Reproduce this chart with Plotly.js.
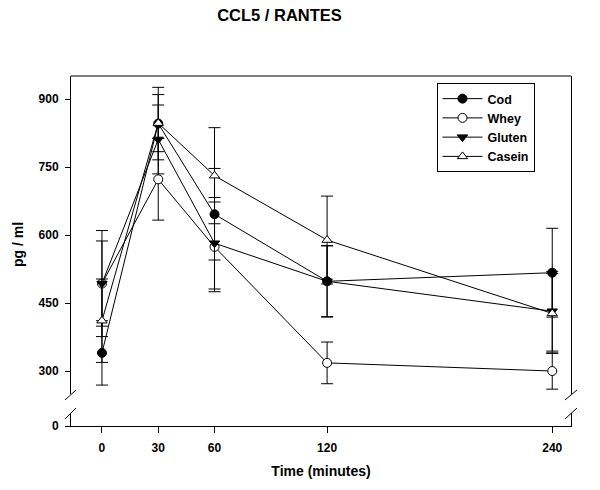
<!DOCTYPE html>
<html>
<head>
<meta charset="utf-8">
<script src="https://cdn.plot.ly/plotly-3.0.1.min.js"></script>
<style>html,body{margin:0;padding:0;background:#fff;}#chart{width:600px;height:490px;}</style>
</head>
<body>
<div id="chart"></div>
<script>
// Data
const times = [0, 30, 60, 120, 240];
const xTickLabels = ['0', '30', '60', '120', '240'];
const yTickVals = [300, 450, 600, 750, 900];

const seriesNames = ['Cod', 'Whey', 'Gluten', 'Casein'];
const codMean    = [340, 846, 646, 498, 517];
const codErr     = [71, 80, 101, 78, 98];
const wheyMean   = [493, 723, 574, 318, 300];
const wheyErr    = [117, 90, 99, 46, 40];
const glutenMean = [493, 811, 582, 498, 432];
const glutenErr  = [94, 76, 101, 79, 88];
const caseinMean = [411, 847, 731, 589, 427];
const caseinErr  = [92, 63, 106, 97, 88];

const FONT = 'Liberation Sans, Arial, sans-serif';

function mk(name, y, err, symbol, fill) {
  return {
    x: times, y: y, name: name, type: 'scatter', mode: 'lines+markers',
    xaxis: 'x', yaxis: 'y',
    line: {color: '#000', width: 1},
    marker: {symbol: symbol, size: 9, color: fill, line: {color: '#000', width: 1}},
    error_y: {type: 'data', array: err, visible: true, color: '#000', thickness: 1, width: 6},
    cliponaxis: false
  };
}

const data = [
  mk(seriesNames[0], codMean, codErr, 'circle', '#000'),
  mk(seriesNames[1], wheyMean, wheyErr, 'circle', '#fff'),
  mk(seriesNames[2], glutenMean, glutenErr, 'triangle-down', '#000'),
  mk(seriesNames[3], caseinMean, caseinErr, 'triangle-up', '#fff'),
  // empty helper trace so the lower (broken) axis segment exists
  {x: [times[0]], y: [null], xaxis: 'x', yaxis: 'y2', type: 'scatter', mode: 'markers',
   showlegend: false, hoverinfo: 'skip'}
];

const tickFont = {family: FONT, size: 12, color: '#000', weight: 'bold'};

function brk(x0, y0, x1, y1) {
  return {type: 'line', xref: 'paper', yref: 'paper', x0: x0, y0: y0, x1: x1, y1: y1,
          line: {color: '#000', width: 1}};
}

const layout = {
  width: 600, height: 490,
  margin: {l: 71, r: 29, t: 76, b: 64},
  paper_bgcolor: '#fff', plot_bgcolor: '#fff',
  showlegend: true,
  title: {text: 'CCL5 / RANTES', font: {family: FONT, size: 16.5, color: '#000', weight: 'bold'},
          x: 0.417, xanchor: 'center', xref: 'paper', y: 0.969, yanchor: 'middle', yref: 'container'},
  xaxis: {
    range: [-16.5, 250], anchor: 'y2', tickvals: times, ticktext: xTickLabels,
    ticks: 'outside', ticklen: 6, tickcolor: '#000', tickwidth: 1, ticklabelstandoff: 5,
    showline: true, linecolor: '#000', linewidth: 1, showgrid: false, zeroline: false,
    tickfont: tickFont,
    title: {text: 'Time (minutes)', font: {family: FONT, size: 14, color: '#000', weight: 'bold'}, standoff: 11}
  },
  yaxis: {
    domain: [0.0914, 1], range: [249.3, 951], anchor: 'x',
    tickvals: yTickVals, ticks: 'outside', ticklen: 5, tickcolor: '#000', tickwidth: 1, ticklabelstandoff: 4,
    showline: true, linecolor: '#000', linewidth: 1, mirror: true, showgrid: false, zeroline: false,
    tickfont: tickFont
  },
  yaxis2: {
    domain: [0, 0.0371], range: [0, 28.7], anchor: 'x',
    tickvals: [0], ticks: 'outside', ticklen: 5, tickcolor: '#000', tickwidth: 1, ticklabelstandoff: 4,
    showline: true, linecolor: '#000', linewidth: 1, mirror: true, showgrid: false, zeroline: false,
    tickfont: tickFont
  },
  legend: {
    x: 0.731, y: 0.98, xanchor: 'left', yanchor: 'top',
    bgcolor: '#fff', bordercolor: '#000', borderwidth: 1,
    font: {family: FONT, size: 12.5, color: '#000', weight: 'bold'},
    itemwidth: 40, tracegroupgap: 0
  },
  annotations: [
    {text: 'pg / ml', xref: 'paper', yref: 'paper', x: -0.106, y: 0.517, xanchor: 'center', yanchor: 'middle',
     textangle: -90, showarrow: false, font: {family: FONT, size: 14, color: '#000', weight: 'bold'}}
  ],
  shapes: [
    {type: 'line', xref: 'paper', yref: 'paper', x0: 0, x1: 1, y0: 1, y1: 1, line: {color: '#000', width: 1}},
    brk(-0.012, 0.0743, 0.010, 0.1029),
    brk(-0.012, 0.0200, 0.010, 0.0514),
    brk(0.988, 0.0743, 1.012, 0.1029),
    brk(0.988, 0.0200, 1.012, 0.0514)
  ]
};

Plotly.newPlot('chart', data, layout, {displayModeBar: false, staticPlot: true});
</script>
</body>
</html>
